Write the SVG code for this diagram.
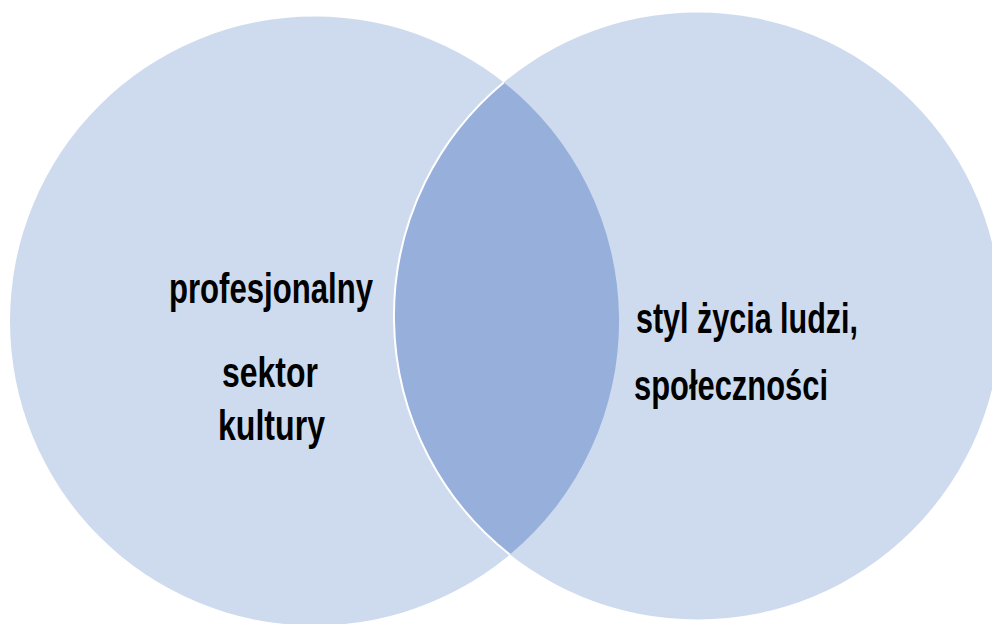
<svg xmlns="http://www.w3.org/2000/svg" width="992" height="624" viewBox="0 0 992 624">
  <style>
    .circle { fill: #CEDBEE; }
    .lens { fill: #96AFDB; }
    .edge { fill: none; stroke: #FFFFFF; stroke-width: 2; }
    .lbl { font-family: "Liberation Sans", Arial, sans-serif; font-weight: bold; font-size: 31px; fill: #000000; }
  </style>
  <rect width="992" height="624" fill="#FFFFFF"/>
  <g id="circle-left">
    <circle class="circle" cx="314.5" cy="321" r="304.5"/>
  </g>
  <g id="circle-right">
    <circle class="circle" cx="697.5" cy="316" r="303.5"/>
  </g>
  <g id="overlap">
    <path class="lens" d="M503.7 82.4 A304.5 304.5 0 0 1 509.9 554.6 A303.5 303.5 0 0 1 503.7 82.4 Z"/>
    <path class="edge" d="M509.9 554.6 A303.5 303.5 0 0 1 503.7 82.4"/>
  </g>
  <g id="label-left">
    <g transform="translate(271 303) scale(1 1.36)"><text class="lbl" x="0" y="0" text-anchor="middle" textLength="204" lengthAdjust="spacingAndGlyphs">profesjonalny</text></g>
    <g transform="translate(270 387) scale(1 1.36)"><text class="lbl" x="0" y="0" text-anchor="middle" textLength="96" lengthAdjust="spacingAndGlyphs">sektor</text></g>
    <g transform="translate(271.5 440) scale(1 1.36)"><text class="lbl" x="0" y="0" text-anchor="middle" textLength="107" lengthAdjust="spacingAndGlyphs">kultury</text></g>
  </g>
  <g id="label-right">
    <g transform="translate(636 333) scale(1 1.36)"><text class="lbl" x="0" y="0" textLength="222" lengthAdjust="spacingAndGlyphs">styl życia ludzi,</text></g>
    <g transform="translate(634 400) scale(1 1.36)"><text class="lbl" x="0" y="0" textLength="194" lengthAdjust="spacingAndGlyphs">społeczności</text></g>
  </g>
  <g id="connectors"/>
</svg>
